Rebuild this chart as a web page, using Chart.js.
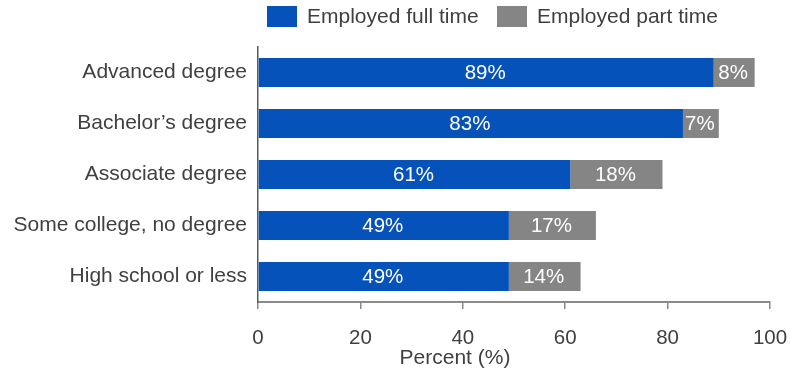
<!DOCTYPE html>
<html>
<head>
<meta charset="utf-8">
<script src="https://cdn.jsdelivr.net/npm/chart.js@4"></script>
<style>
  html, body { margin: 0; padding: 0; background: #fff; }
  #wrap { position: relative; width: 807px; height: 374px; }
  #legend { position: absolute; top: 0; left: 0; width: 807px; height: 40px; font-family: "Liberation Sans", Arial, sans-serif; font-size: 21px; color: #404040; }
  .item { position: absolute; top: 3px; display: flex; align-items: center; height: 26px; }
  .swatch { width: 30px; height: 21px; margin-right: 10px; }
</style>
</head>
<body>
<div id="wrap">
  <canvas id="chart" width="807" height="374"></canvas>
  <div id="legend"></div>
</div>
<script>
// Education level categories (top to bottom)
const categories = [
  "Advanced degree",
  "Bachelor\u2019s degree",
  "Associate degree",
  "Some college, no degree",
  "High school or less"
];
// Share employed, in percent
const fullTime = [89, 83, 61, 49, 49];
const partTime = [8, 7, 18, 17, 14];
const seriesNames = ["Employed full time", "Employed part time"];
const xTicks = [0, 20, 40, 60, 80, 100];
const xTitle = "Percent (%)";

const BLUE = "#0652bb";
const GRAY = "#858585";
const TEXT = "#404040";
const FONT = "'Liberation Sans', Arial, sans-serif";

// Legend above the plot
const legend = document.getElementById("legend");
[[seriesNames[0], BLUE, 267], [seriesNames[1], GRAY, 497]].forEach(([name, color, left]) => {
  const item = document.createElement("div");
  item.className = "item";
  item.style.left = left + "px";
  const sw = document.createElement("div");
  sw.className = "swatch";
  sw.style.background = color;
  const label = document.createElement("span");
  label.textContent = name;
  item.appendChild(sw);
  item.appendChild(label);
  legend.appendChild(item);
});

// White value labels centred inside each bar segment
const valueLabels = {
  id: "valueLabels",
  afterDatasetsDraw(chart) {
    const ctx = chart.ctx;
    ctx.save();
    ctx.fillStyle = "#ffffff";
    ctx.font = "20.5px " + FONT;
    ctx.textAlign = "center";
    ctx.textBaseline = "middle";
    chart.data.datasets.forEach((ds, i) => {
      chart.getDatasetMeta(i).data.forEach((bar, j) => {
        const p = bar.getCenterPoint();
        ctx.fillText(ds.data[j] + "%", p.x - 1, p.y + 1);
      });
    });
    ctx.restore();
  }
};

// Axis title under the tick labels, set a little left of the plot centre
const axisTitle = {
  id: "axisTitle",
  afterDraw(chart) {
    const ctx = chart.ctx;
    ctx.save();
    ctx.fillStyle = TEXT;
    ctx.font = "21px " + FONT;
    ctx.textAlign = "center";
    ctx.textBaseline = "middle";
    ctx.fillText(xTitle, 455, 358);
    ctx.restore();
  }
};

new Chart(document.getElementById("chart"), {
  type: "bar",
  data: {
    labels: categories,
    datasets: [
      { label: seriesNames[0], data: fullTime, backgroundColor: BLUE },
      { label: seriesNames[1], data: partTime, backgroundColor: GRAY }
    ]
  },
  options: {
    indexAxis: "y",
    responsive: false,
    animation: false,
    events: [],
    barPercentage: 0.57,
    categoryPercentage: 1,
    layout: { padding: { top: 47, left: 0, right: 37, bottom: 0 } },
    plugins: {
      legend: { display: false },
      tooltip: { enabled: false }
    },
    scales: {
      x: {
        stacked: true,
        min: 0,
        max: 100,
        afterBuildTicks(scale) { scale.ticks = xTicks.map(v => ({ value: v })); },
        afterFit(scale) { scale.height = 72; },
        grid: { drawOnChartArea: false, drawTicks: true, tickLength: 7, color: "#8a8a8a", lineWidth: 1.5 },
        border: { display: true, color: "#8a8a8a", width: 2 },
        ticks: { font: { family: FONT, size: 20.5 }, color: TEXT, padding: 17, maxRotation: 0 },
        title: { display: false }
      },
      y: {
        stacked: true,
        afterFit(scale) { scale.width = 258; },
        grid: { display: false, drawTicks: false },
        border: { display: true, color: "#5a5a5a", width: 1.5 },
        ticks: { font: { family: FONT, size: 21 }, color: TEXT, padding: 11 }
      }
    }
  },
  plugins: [valueLabels, axisTitle]
});
</script>
</body>
</html>
